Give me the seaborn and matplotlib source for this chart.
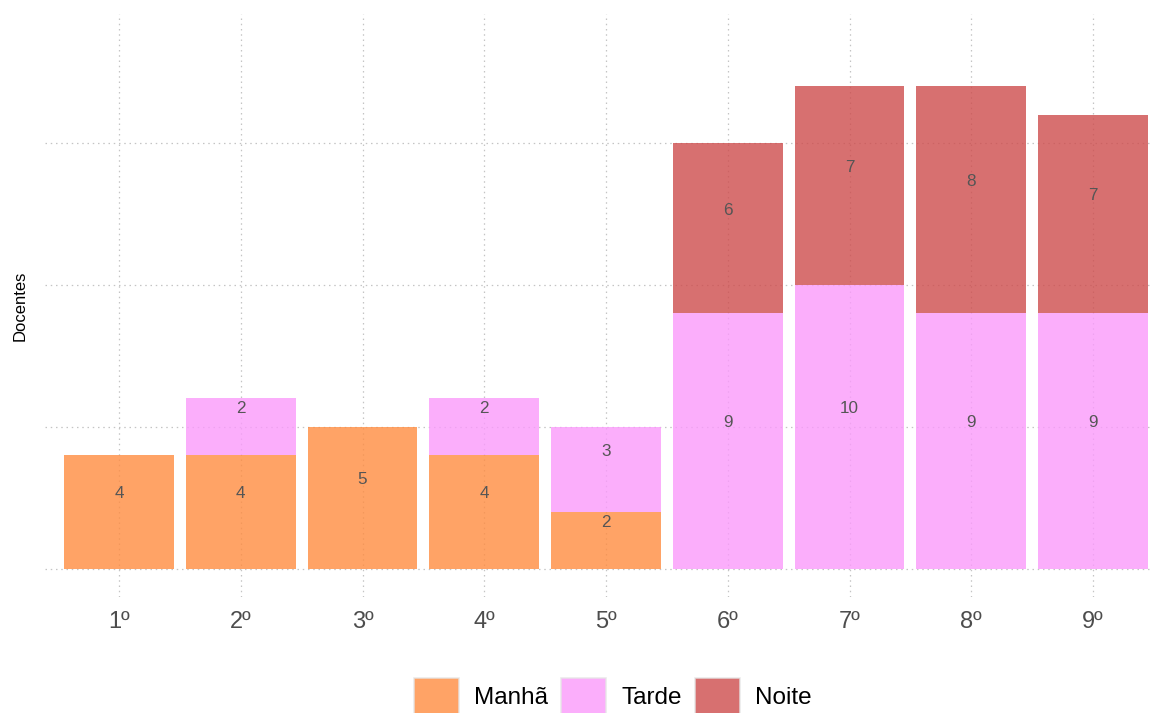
import numpy as np
import pandas as pd
import matplotlib
matplotlib.use("Agg")
import matplotlib.pyplot as plt
from matplotlib.patches import Patch
import seaborn as sns

# dados
series = ["1º", "2º", "3º", "4º", "5º", "6º", "7º", "8º", "9º"]
turnos = ["Manhã", "Tarde", "Noite"]
manha = [4, 4, 5, 4, 2, 0, 0, 0, 0]
tarde = [0, 2, 0, 2, 3, 9, 10, 9, 9]
noite = [0, 0, 0, 0, 0, 6, 7, 8, 7]
cores = {"Manhã": "#FF8C40", "Tarde": "#FA9AFB", "Noite": "#CE4C4C"}

df = pd.DataFrame({
    "serie": series * 3,
    "turno": np.repeat(turnos, len(series)),
    "n": manha + tarde + noite,
})
df["serie"] = pd.Categorical(df["serie"], categories=series, ordered=True)

sns.set_style("white")
plt.rcParams["font.family"] = ["Liberation Sans", "DejaVu Sans"]

fig = plt.figure(figsize=(11.5, 7.13), dpi=100)
ax = fig.add_axes([45 / 1150, 116 / 713, 1 - 45 / 1150, (597 - 14) / 713])

# seaborn stacks the first hue level on top, so reverse the order
sns.histplot(data=df, x="serie", weights="n", hue="turno",
             hue_order=turnos[::-1], multiple="stack", discrete=True,
             shrink=0.9, palette=cores, alpha=0.8, linewidth=0,
             legend=False, ax=ax)

# rótulos dentro das barras
base = np.zeros(len(series))
for vals in [manha, tarde, noite]:
    vals = np.array(vals)
    for i, v in enumerate(vals):
        if v > 0:
            ax.text(i, base[i] + v / 2 + 0.64, str(v), ha="center", va="center",
                    fontsize=12.3, color="#555555")
    base = base + vals

ax.set_xlim(-0.608, 8.468)
ax.set_ylim(-1.0, 19.55)
ax.set_xticks(range(len(series)))
ax.set_xticklabels(series)
ax.set_yticks([0, 5, 10, 15])
ax.set_yticklabels([])
ax.tick_params(axis="x", length=0, pad=10, labelsize=17, labelcolor="#4D4D4D")
ax.tick_params(axis="y", length=0)
ax.set_xlabel("")
ax.set_ylabel("Docentes", fontsize=12, labelpad=9, color="black")
ax.set_axisbelow(True)
ax.grid(True, linestyle=(0, (1.2, 3)), color="#C4C4C4", linewidth=0.9)
sns.despine(ax=ax, left=True, bottom=True)

handles = [Patch(facecolor=cores[t], alpha=0.8, edgecolor="#E6E6E6", linewidth=1.2)
           for t in turnos]
leg = fig.legend(handles, turnos, loc="center", bbox_to_anchor=(613 / 1150, 17 / 713),
                 ncol=3, frameon=False, fontsize=17.5, handlelength=1.85,
                 handleheight=1.85, handletextpad=0.62, columnspacing=0.55)
for t in leg.get_texts():
    t.set_color("black")

fig.savefig("out.png", dpi=100)
